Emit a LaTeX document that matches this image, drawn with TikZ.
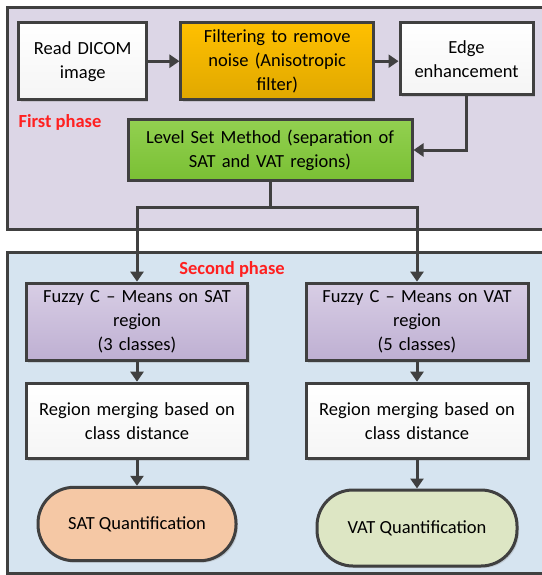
\documentclass[tikz,border=0pt]{standalone}
\usepackage{fontspec}
\setmainfont{Carlito}
\usetikzlibrary{arrows.meta,shadows}

\definecolor{frameA}{RGB}{220,214,230}
\definecolor{frameB}{RGB}{214,228,240}
\definecolor{edgegray}{RGB}{64,64,64}
\definecolor{phasered}{RGB}{255,32,32}

\begin{document}
\begin{tikzpicture}[x=1pt,y=-1pt,
    box/.style={draw=edgegray,line width=3pt,align=center,inner sep=2pt,
        font=\fontsize{18.5}{24}\selectfont,
        drop shadow={shadow xshift=2pt,shadow yshift=-2pt,opacity=0.25}},
    plainbox/.style={box,top color=white,bottom color=gray!8},
    fuzzybox/.style={box,top color={rgb,255:red,216;green,206;blue,229},
        bottom color={rgb,255:red,190;green,175;blue,210}},
    termbox/.style={box,rounded corners=36pt},
    phase/.style={font=\fontsize{18.5}{24}\selectfont\bfseries,text=phasered},
    conn/.style={draw=edgegray,line width=3pt},
    arr/.style={conn,-{Triangle[width=13pt,length=10pt]}}]
    \useasboundingbox (0,0) rectangle (541,575);

    % phase frames
    \draw[edgegray,line width=3pt,fill=frameA] (7,7.6) rectangle (550,229.7);
    \draw[edgegray,line width=3pt,fill=frameB] (7,252.8) rectangle (550,573);
    \node[phase] (first) at (60,122) {First phase};
    \node[phase] (second) at (232,269) {Second phase};

    % first phase
    \node[plainbox,minimum width=127.5pt,minimum height=77.6pt,text width=120pt]
        (read) at (82.7,61.2) {Read DICOM\\image};
    \node[box,top color={rgb,255:red,255;green,192;blue,0},
        bottom color={rgb,255:red,224;green,168;blue,0},
        minimum width=192.5pt,minimum height=77.6pt,text width=185pt]
        (filt) at (277.2,61.2) {Filtering to remove\\noise (Anisotropic\\filter)};
    \node[plainbox,minimum width=133pt,minimum height=72.6pt,text width=126pt]
        (edge) at (466.5,58.7) {Edge\\enhancement};
    \node[box,top color={rgb,255:red,146;green,208;blue,80},
        bottom color={rgb,255:red,122;green,192;blue,52},
        minimum width=284pt,minimum height=60pt,text width=276pt]
        (level) at (270,150) {Level Set Method (separation of\\SAT and VAT regions)};

    % second phase
    \node[fuzzybox,minimum width=221.6pt,minimum height=77.7pt,text width=214pt]
        (fuzzyS) at (137,322) {Fuzzy C -- Means on SAT\\region\\(3 classes)};
    \node[fuzzybox,minimum width=222pt,minimum height=77.7pt,text width=214pt]
        (fuzzyV) at (417,322) {Fuzzy C -- Means on VAT\\region\\(5 classes)};
    \node[plainbox,minimum width=221.6pt,minimum height=75.6pt,text width=214pt]
        (mergeS) at (137,421) {Region merging based on\\class distance};
    \node[plainbox,minimum width=222pt,minimum height=75.6pt,text width=214pt]
        (mergeV) at (417,421) {Region merging based on\\class distance};
    \node[termbox,fill={rgb,255:red,245;green,200;blue,165},
        minimum width=198pt,minimum height=73.4pt]
        (quantS) at (137,524) {SAT Quantification};
    \node[termbox,fill={rgb,255:red,221;green,230;blue,196},
        minimum width=200pt,minimum height=76pt]
        (quantV) at (417,528) {VAT Quantification};

    % connectors
    \coordinate (split) at (level.south |- 0,207);
    \draw[arr] (read) -- (filt);
    \draw[arr] (filt.east) -- (filt.east -| edge.west);
    \draw[arr] (edge.south) |- (level.east);
    \draw[conn] (level.south) -- (split);
    \draw[arr] (split) -| (fuzzyS.north);
    \draw[arr] (split) -| (fuzzyV.north);
    \draw[arr] (fuzzyS) -- (mergeS);
    \draw[arr] (fuzzyV) -- (mergeV);
    \draw[arr] (mergeS) -- (quantS);
    \draw[arr] (mergeV) -- (quantV);
\end{tikzpicture}
\end{document}
